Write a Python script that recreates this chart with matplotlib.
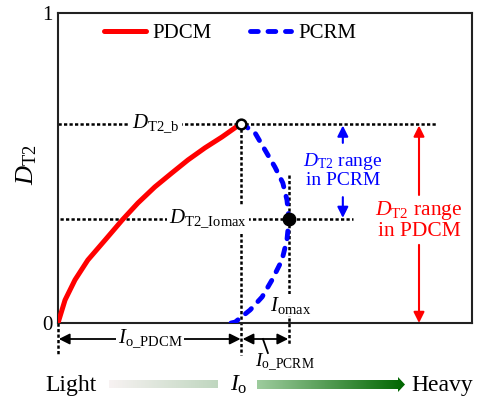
import numpy as np
import matplotlib
matplotlib.use("Agg")
import matplotlib.pyplot as plt
from matplotlib.patches import Polygon

plt.rcParams['font.family'] = ['Liberation Serif', 'DejaVu Serif']
plt.rcParams['mathtext.fontset'] = 'custom'
plt.rcParams['mathtext.rm'] = 'Liberation Serif'
plt.rcParams['mathtext.it'] = 'Liberation Serif:italic'

# curves (x: load current, y: D_T2)
pdcm_x = [0.0, 0.017, 0.041, 0.072, 0.114, 0.155, 0.193, 0.234, 0.275, 0.314, 0.355, 0.396, 0.430]
pdcm_y = [0.0, 0.074, 0.139, 0.203, 0.268, 0.332, 0.387, 0.439, 0.484, 0.526, 0.565, 0.600, 0.632]
pcrm_x = [0.418, 0.428, 0.464, 0.493, 0.517, 0.541, 0.553, 0.558, 0.553, 0.543, 0.524, 0.500, 0.476, 0.442]
pcrm_y = [0.0, 0.003, 0.042, 0.084, 0.139, 0.203, 0.268, 0.335, 0.397, 0.452, 0.503, 0.558, 0.613, 0.645]

d_b = 0.643        # D_T2_b
d_iomax = 0.337    # D_T2_Iomax
io_pdcm = 0.443    # I_o_PDCM end
io_max = 0.558     # I_omax

fig = plt.figure(figsize=(4.79, 4.05), dpi=100)
ax = fig.add_axes([58/479, 1-323/405, 414/479, 310/405])
ax.set_xlim(0, 1)
ax.set_ylim(0, 1)
ax.set_xticks([])
ax.set_yticks([0, 1])
ax.set_yticklabels(['0', '1'], fontsize=15)
ax.tick_params(axis='y', length=0, pad=4)
for s in ax.spines.values():
    s.set_linewidth(1.5)
    s.set_color('#222222')

ax.text(-0.075, 0.51, r'$D_{\mathrm{T2}}$', rotation=90, fontsize=19,
        ha='center', va='center', transform=ax.transAxes)

dot = dict(color='black', lw=1.8, linestyle=(0, (1.3, 0.9)), clip_on=False, zorder=2)
px = 1/310.0
# horizontal guides
ax.plot([0, 0.915], [d_b, d_b], **dot)
ax.plot([0.005, 0.713], [d_iomax, d_iomax], **dot)
# vertical guides
ax.plot([0, 0], [0, -32*px], **dot)
ax.plot([io_pdcm, io_pdcm], [d_b - 5*px, -32*px], **dot)
ax.plot([io_max, io_max], [0.477, -22*px], **dot)

# curves
ax.plot(pdcm_x, pdcm_y, color='#ff0000', lw=3.6, solid_capstyle='round',
        solid_joinstyle='round', zorder=4, label='PDCM')
ax.plot(pcrm_x, pcrm_y, color='#0000ff', lw=3.5, linestyle=(0, (1.6, 2.0)),
        dash_capstyle='round', zorder=4, label='PCRM')
ax.plot([io_pdcm], [d_b], 'o', ms=7, mfc='white', mec='black', mew=1.8, zorder=6)
ax.plot([io_max], [d_iomax], 'o', ms=9, color='black', zorder=6)

ax.legend(loc='center', bbox_to_anchor=(0.416, 0.935), ncol=2, frameon=False,
          fontsize=15, handlelength=2.0, handletextpad=0.35, columnspacing=1.8)

wb = dict(facecolor='white', edgecolor='none', pad=1.5)
ax.text(0.237, d_b, r'$D_{\mathrm{T2\_b}}$', fontsize=15, ha='center', va='center',
        bbox=wb, zorder=3)
ax.text(0.362, d_iomax, r'$D_{\mathrm{T2\_Iomax}}$', fontsize=15, ha='center',
        va='center', bbox=wb, zorder=3)
ax.text(0.562, 0.058, r'$I_{\mathrm{omax}}$', fontsize=15, ha='center', va='center',
        bbox=dict(facecolor='white', edgecolor='none', pad=0.5), zorder=3)

# I_o arrows below the axis
ya = -16*px
arr = dict(arrowstyle='<|-|>', color='black', lw=1.3, mutation_scale=16,
           shrinkA=0, shrinkB=0)
ax.annotate('', xy=(0.002, ya), xytext=(io_pdcm - 0.002, ya), arrowprops=arr,
            annotation_clip=False)
ax.text(0.222, ya, r'$I_{\mathrm{o\_PDCM}}$', fontsize=15, ha='center', va='center',
        bbox=dict(facecolor='white', edgecolor='none', pad=1), clip_on=False, zorder=5)
ax.annotate('', xy=(io_pdcm + 0.003, ya), xytext=(io_max - 0.002, ya), arrowprops=arr,
            annotation_clip=False)
ax.plot([0.495, 0.507], [ya, -30*px], color='black', lw=1.3, clip_on=False)
ax.text(0.548, -40*px, r'$I_{\mathrm{o\_PCRM}}$', fontsize=14, ha='center',
        va='center', clip_on=False)

# D_T2 ranges
def varrow(x, y0, y1, c):
    ax.annotate('', xy=(x, y1), xytext=(x, y0),
                arrowprops=dict(arrowstyle='-|>', color=c, lw=1.5, mutation_scale=16,
                                shrinkA=0, shrinkB=0))

varrow(0.688, 0.581, d_b - 0.006, 'blue')
varrow(0.688, 0.406, d_iomax + 0.002, 'blue')
ax.text(0.688, 0.494, r'$D_{\mathrm{T2}}$ range' + '\nin PCRM', color='blue',
        fontsize=14, ha='center', va='center', linespacing=1.0)
varrow(0.872, 0.413, d_b - 0.006, 'red')
varrow(0.872, 0.252, 0.0, 'red')
ax.text(0.872, 0.332, r'$D_{\mathrm{T2}}$ range' + '\nin PDCM', color='red',
        fontsize=15.5, ha='center', va='center', linespacing=1.0)

# bottom "Light -> Heavy" strip
ov = fig.add_axes([0, 0, 1, 1])
ov.set_xlim(0, 479)
ov.set_ylim(405, 0)
ov.axis('off')
g = np.linspace(0, 1, 256)[None, :, None]
c0 = np.array([0.97, 0.95, 0.95]); c1 = np.array([0.75, 0.84, 0.75])
ov.imshow(c0 + (c1 - c0) * g, extent=(109, 218, 388, 380), aspect='auto')
c2 = np.array([0.62, 0.80, 0.62]); c3 = np.array([0.0, 0.40, 0.0])
im = ov.imshow(c2 + (c3 - c2) * g, extent=(257, 405, 393, 377), aspect='auto')
shape = Polygon([(257, 380), (398, 380), (398, 377), (405, 384.5), (398, 392),
                 (398, 389), (257, 389)], closed=True, transform=ov.transData,
                facecolor='none', edgecolor='none')
ov.add_patch(shape)
im.set_clip_path(shape)
ov.text(71, 385, 'Light', fontsize=17, ha='center', va='center')
ov.text(239, 385, r'$I_{\mathrm{o}}$', fontsize=17, ha='center', va='center')
ov.text(442, 385, 'Heavy', fontsize=17, ha='center', va='center')

fig.savefig('out.png', dpi=100)
